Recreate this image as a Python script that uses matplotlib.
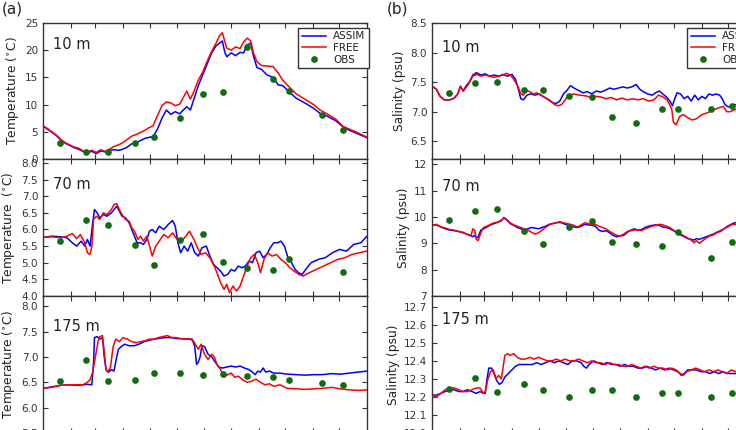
import matplotlib
matplotlib.use('agg')
import matplotlib.pyplot as plt
import numpy as np

plt.rcParams['font.family'] = ['DejaVu Sans']
plt.rcParams['xtick.direction'] = 'in'
plt.rcParams['ytick.direction'] = 'in'
plt.rcParams['xtick.top'] = True
plt.rcParams['ytick.right'] = True
plt.rcParams['xtick.major.size'] = 3.5
plt.rcParams['ytick.major.size'] = 3.5

# day of year for the observation profiles
obs_day = [19, 48, 73, 104, 125, 154, 180, 203, 230, 259, 277, 314, 338]
obs_day_70 = [19, 48, 73, 104, 125, 154, 180, 203, 230, 259, 277, 338]
month_start = [31, 59, 90, 120, 151, 181, 212, 243, 273, 304, 334]

# ---- (a) temperature, 10 m
t10_day = [0, 5, 10, 15, 20, 25, 30, 35, 40, 45, 50, 55, 60, 65, 70, 75, 80, 85, 90, 95,
           100, 105, 110, 115, 120, 124, 129, 134, 139, 144, 149, 154, 158, 162, 166, 170,
           175, 180, 185, 190, 195, 199, 202, 205, 207, 212, 217, 222, 226, 230, 234, 237,
           241, 246, 252, 259, 265, 270, 277, 285, 295, 305, 312, 320, 330, 338, 345, 355, 365]
t10_free = [6.1, 5.6, 5.0, 4.4, 3.6, 3.0, 2.6, 2.2, 2.0, 1.5, 1.3, 1.6, 1.2, 1.7, 1.4, 1.8,
            2.3, 2.6, 3.0, 3.6, 4.2, 4.5, 4.9, 5.3, 5.8, 6.1, 8.0, 9.8, 10.5, 10.3, 9.8, 10.1,
            11.3, 12.5, 11.0, 12.4, 14.5, 16.0, 18.0, 19.8, 21.3, 22.7, 23.2, 21.5, 20.4, 20.0,
            20.6, 20.3, 21.5, 22.2, 21.7, 19.5, 17.9, 17.2, 17.1, 17.0, 15.8, 14.5, 13.3, 12.0,
            11.0, 10.0, 9.0, 8.3, 7.3, 6.0, 5.5, 4.8, 4.0]
t10_assim = [6.0, 5.5, 4.9, 4.3, 3.5, 2.9, 2.5, 2.1, 1.8, 1.4, 1.2, 1.4, 1.0, 1.5, 1.3, 1.6,
             1.7, 1.6, 1.8, 2.2, 2.8, 3.0, 3.4, 3.8, 4.0, 4.1, 5.5, 7.5, 9.0, 8.2, 8.7, 8.3,
             9.0, 9.6, 9.0, 11.0, 13.5, 15.5, 17.5, 19.5, 20.8, 21.3, 21.7, 19.5, 18.8, 19.5,
             19.0, 19.6, 19.5, 21.0, 21.3, 19.0, 16.8, 16.5, 15.5, 15.0, 13.6, 13.5, 12.4, 11.2,
             10.3, 9.3, 8.4, 7.9, 7.0, 5.9, 5.3, 4.6, 3.9]
t10_obs = [3.0, 1.3, 1.3, 2.9, 4.0, 7.5, 12.0, 12.3, 20.6, 14.7, 12.5, 8.1, 5.4]

# ---- (a) temperature, 70 m
t70_free_day = [0, 10, 20, 27, 33, 38, 42, 47, 50, 53, 55, 57, 60, 64, 68, 72, 77, 80, 83, 86,
                89, 93, 97, 100, 103, 107, 110, 113, 117, 120, 123, 127, 131, 136, 141, 146,
                151, 156, 161, 165, 170, 174, 178, 183, 188, 192, 196, 200, 204, 207, 210, 214,
                218, 222, 226, 230, 234, 238, 242, 245, 249, 253, 258, 263, 268, 273, 278, 283,
                288, 293, 300, 308, 316, 324, 332, 340, 348, 356, 365]
t70_free = [5.76, 5.78, 5.75, 5.8, 5.88, 5.72, 5.85, 5.6, 5.3, 5.25, 5.5, 6.3, 6.4, 6.3, 6.5,
            6.45, 6.6, 6.75, 6.78, 6.6, 6.45, 6.3, 6.25, 6.05, 5.95, 5.7, 5.8, 5.65, 5.8, 5.5,
            5.2, 5.5, 5.65, 5.85, 5.75, 5.9, 5.7, 5.65, 5.8, 5.95, 5.7, 5.45, 5.25, 5.3, 5.15,
            4.95, 4.7, 4.4, 4.2, 4.35, 4.1, 4.3, 4.15, 4.3, 4.6, 4.9, 5.15, 5.25, 5.0, 4.7,
            5.1, 5.3, 5.2, 5.25, 5.1, 5.0, 4.85, 4.75, 4.65, 4.6, 4.7, 4.8, 4.9, 5.0, 5.1,
            5.15, 5.25, 5.3, 5.35]
t70_assim_day = [0, 10, 20, 27, 33, 38, 43, 47, 50, 53, 56, 58, 61, 64, 68, 72, 77, 80, 83, 86,
                 89, 93, 97, 100, 103, 106, 110, 113, 117, 120, 123, 127, 131, 136, 141, 146,
                 149, 152, 155, 159, 163, 167, 171, 175, 179, 184, 188, 192, 196, 200, 204, 208,
                 212, 216, 220, 224, 228, 232, 236, 240, 244, 248, 252, 256, 260, 264, 268, 272,
                 276, 280, 284, 288, 292, 296, 302, 310, 318, 326, 334, 342, 350, 358, 365]
t70_assim = [5.76, 5.8, 5.78, 5.75, 5.6, 5.5, 5.65, 5.5, 5.7, 5.5, 6.2, 6.6, 6.5, 6.35, 6.45,
             6.4, 6.5, 6.6, 6.7, 6.55, 6.4, 6.35, 6.2, 6.0, 5.8, 5.6, 5.6, 5.55, 5.7, 5.95,
             6.0, 5.9, 6.1, 6.0, 6.15, 6.27, 6.1, 5.6, 5.3, 5.5, 5.35, 5.6, 5.3, 5.2, 5.45,
             5.5, 5.2, 4.95, 4.85, 4.75, 4.6, 4.65, 4.8, 4.75, 4.9, 4.85, 4.9, 5.05, 5.0, 5.3,
             5.35, 5.15, 5.25, 5.45, 5.6, 5.6, 5.65, 5.5, 5.15, 5.0, 4.8, 4.7, 4.65, 4.8, 5.0,
             5.1, 5.15, 5.3, 5.4, 5.35, 5.55, 5.6, 5.8]
t70_obs = [5.65, 6.29, 6.14, 5.53, 4.92, 5.68, 5.86, 5.01, 4.85, 4.79, 5.10, 4.73]

# ---- (a) temperature, 175 m
t175_free_day = [0, 10, 20, 30, 40, 45, 50, 53, 56, 59, 62, 64, 67, 69, 71, 73, 76, 79, 82, 86,
                 90, 95, 100, 105, 110, 115, 120, 125, 130, 135, 140, 145, 150, 155, 160, 165,
                 170, 175, 178, 182, 186, 190, 193, 196, 200, 204, 208, 212, 216, 220, 225, 230,
                 235, 240, 245, 250, 255, 260, 267, 275, 285, 295, 305, 315, 325, 335, 345, 355, 365]
t175_free = [6.38, 6.4, 6.44, 6.45, 6.45, 6.45, 6.5, 6.55, 6.7, 7.0, 7.3, 7.4, 7.42, 7.1, 6.75,
             6.7, 6.8, 7.2, 7.35, 7.3, 7.38, 7.35, 7.3, 7.28, 7.3, 7.32, 7.35, 7.35, 7.38, 7.4,
             7.42, 7.38, 7.38, 7.36, 7.35, 7.36, 7.3, 7.15, 7.25, 7.05, 6.95, 7.05, 7.0, 6.85,
             6.75, 6.6, 6.65, 6.68, 6.6, 6.62, 6.55, 6.5, 6.52, 6.56, 6.5, 6.45, 6.47, 6.42,
             6.45, 6.38, 6.37, 6.36, 6.37, 6.38, 6.4, 6.37, 6.35, 6.34, 6.35]
t175_assim_day = [0, 10, 20, 30, 40, 45, 50, 55, 57, 58, 61, 64, 67, 69, 71, 74, 77, 80, 83, 85,
                  88, 92, 97, 103, 108, 114, 120, 126, 132, 138, 144, 150, 156, 162, 168, 171,
                  173, 175, 177, 179, 182, 186, 190, 194, 198, 202, 207, 212, 217, 222, 227, 232,
                  236, 239, 242, 245, 248, 251, 255, 260, 267, 275, 285, 295, 305, 315, 325, 335,
                  345, 355, 365]
t175_assim = [6.38, 6.41, 6.44, 6.45, 6.44, 6.45, 6.46, 6.45, 6.9, 7.38, 7.4, 7.35, 7.38, 7.0,
              6.75, 6.7, 6.75, 6.72, 7.0, 7.15, 7.2, 7.25, 7.22, 7.22, 7.25, 7.3, 7.33, 7.35,
              7.37, 7.38, 7.38, 7.36, 7.36, 7.35, 7.35, 7.2, 6.85, 6.9, 7.0, 7.22, 7.2, 7.05,
              7.0, 6.9, 6.8, 6.78, 6.8, 6.82, 6.8, 6.82, 6.78, 6.75, 6.7, 6.65, 6.72, 6.7, 6.78,
              6.7, 6.72, 6.68, 6.68, 6.66, 6.65, 6.64, 6.65, 6.65, 6.67, 6.66, 6.68, 6.7, 6.72]
t175_obs = [6.52, 6.94, 6.53, 6.55, 6.68, 6.68, 6.65, 6.66, 6.63, 6.61, 6.55, 6.48, 6.45]

# ---- (b) salinity, 10 m
s10_free_day = [0, 5, 9, 14, 20, 25, 29, 32, 35, 38, 42, 46, 50, 55, 60, 65, 70, 75, 80, 84,
                88, 91, 94, 97, 100, 103, 106, 110, 114, 118, 122, 126, 130, 134, 138, 142, 146,
                150, 154, 160, 166, 172, 178, 184, 190, 196, 202, 208, 214, 220, 226, 232, 238,
                244, 250, 255, 260, 265, 270, 272, 275, 279, 283, 288, 293, 298, 304, 310, 316,
                322, 328, 332, 336, 340, 345, 350, 355, 365]
s10_free = [7.43, 7.38, 7.26, 7.2, 7.2, 7.23, 7.3, 7.43, 7.35, 7.4, 7.49, 7.6, 7.63, 7.6, 7.62,
            7.6, 7.58, 7.6, 7.62, 7.65, 7.62, 7.57, 7.5, 7.42, 7.3, 7.28, 7.36, 7.34, 7.3, 7.32,
            7.28, 7.25, 7.22, 7.18, 7.12, 7.1, 7.12, 7.2, 7.28, 7.3, 7.28, 7.27, 7.25, 7.26,
            7.25, 7.22, 7.24, 7.2, 7.23, 7.2, 7.22, 7.2, 7.22, 7.18, 7.2, 7.28, 7.25, 7.2, 7.05,
            6.82, 6.78, 6.92, 6.95, 6.9, 6.86, 6.88, 6.95, 6.98, 7.02, 7.06, 7.09, 7.0, 7.0,
            7.03, 7.05, 7.06, 7.08, 7.1]
s10_assim_day = [0, 5, 9, 14, 20, 25, 29, 32, 35, 39, 42, 46, 50, 55, 60, 65, 70, 75, 80, 85,
                 90, 94, 97, 100, 103, 107, 111, 116, 121, 126, 131, 136, 140, 144, 148, 152,
                 156, 160, 165, 170, 175, 180, 185, 190, 195, 200, 205, 210, 215, 220, 225, 230,
                 234, 238, 243, 248, 252, 256, 260, 264, 268, 271, 273, 276, 280, 284, 288, 292,
                 296, 300, 304, 308, 312, 316, 320, 324, 327, 330, 334, 338, 342, 350, 358, 365]
s10_assim = [7.43, 7.38, 7.26, 7.2, 7.2, 7.23, 7.3, 7.43, 7.35, 7.45, 7.5, 7.62, 7.66, 7.62,
             7.64, 7.6, 7.62, 7.6, 7.63, 7.6, 7.63, 7.55, 7.4, 7.22, 7.2, 7.28, 7.3, 7.28, 7.3,
             7.25, 7.2, 7.15, 7.14, 7.18, 7.3, 7.36, 7.44, 7.4, 7.36, 7.32, 7.34, 7.3, 7.35,
             7.33, 7.36, 7.4, 7.38, 7.4, 7.42, 7.4, 7.42, 7.46, 7.38, 7.34, 7.3, 7.28, 7.32,
             7.35, 7.3, 7.25, 7.18, 7.1, 7.2, 7.32, 7.3, 7.22, 7.26, 7.18, 7.28, 7.2, 7.26,
             7.22, 7.3, 7.28, 7.3, 7.28, 7.22, 7.12, 7.08, 7.1, 7.12, 7.12, 7.1, 7.12]
s10_obs = [7.32, 7.49, 7.51, 7.37, 7.36, 7.26, 7.25, 6.91, 6.81, 7.05, 7.05, 7.05, 7.1]

# ---- (b) salinity, 70 m
s70_day = [0, 5, 10, 15, 20, 25, 30, 35, 39, 44, 46, 48, 50, 52, 55, 58, 62, 66, 70, 74, 78,
           81, 84, 88, 92, 96, 100, 104, 108, 112, 116, 120, 124, 128, 132, 136, 140, 144, 148,
           152, 156, 160, 164, 168, 172, 176, 180, 184, 188, 192, 196, 200, 204, 208, 212, 216,
           220, 224, 228, 232, 236, 240, 244, 248, 252, 256, 260, 264, 268, 272, 276, 280, 284,
           288, 292, 295, 298, 301, 305, 309, 313, 317, 321, 325, 329, 333, 337, 341, 348, 356, 365]
s70_free = [9.68, 9.72, 9.62, 9.58, 9.52, 9.5, 9.45, 9.42, 9.35, 9.3, 9.55, 9.5, 9.15, 9.1, 9.4,
            9.6, 9.65, 9.72, 9.78, 9.8, 9.88, 9.95, 9.9, 9.78, 9.7, 9.65, 9.6, 9.55, 9.5, 9.42,
            9.35, 9.4, 9.5, 9.6, 9.7, 9.75, 9.78, 9.82, 9.78, 9.75, 9.72, 9.68, 9.62, 9.7, 9.78,
            9.75, 9.7, 9.72, 9.65, 9.6, 9.55, 9.45, 9.38, 9.3, 9.28, 9.35, 9.45, 9.48, 9.5, 9.52,
            9.48, 9.55, 9.6, 9.65, 9.68, 9.72, 9.7, 9.65, 9.6, 9.5, 9.42, 9.35, 9.28, 9.2, 9.12,
            9.02, 9.1, 9.0, 9.1, 9.2, 9.28, 9.32, 9.4, 9.45, 9.55, 9.62, 9.7, 9.72, 9.75, 9.78, 9.8]
s70_assim = [9.68, 9.7, 9.62, 9.55, 9.5, 9.48, 9.45, 9.4, 9.35, 9.28, 9.25, 9.3, 9.2, 9.25, 9.5,
             9.55, 9.62, 9.7, 9.75, 9.8, 9.85, 9.98, 9.9, 9.75, 9.68, 9.6, 9.55, 9.5, 9.55, 9.6,
             9.58, 9.55, 9.6, 9.65, 9.72, 9.75, 9.78, 9.8, 9.75, 9.7, 9.65, 9.62, 9.6, 9.65, 9.72,
             9.7, 9.68, 9.65, 9.5, 9.45, 9.48, 9.4, 9.3, 9.25, 9.28, 9.3, 9.42, 9.5, 9.55, 9.5,
             9.52, 9.6, 9.65, 9.68, 9.7, 9.68, 9.62, 9.6, 9.55, 9.48, 9.4, 9.32, 9.25, 9.18, 9.15,
             9.12, 9.18, 9.15, 9.2, 9.25, 9.3, 9.35, 9.42, 9.48, 9.55, 9.65, 9.72, 9.78, 9.8,
             9.82, 9.85]
s70_obs = [9.88, 10.23, 10.3, 9.47, 8.97, 9.61, 9.84, 9.06, 8.97, 8.89, 9.44, 8.45, 9.06]

# ---- (b) salinity, 175 m
s175_free_day = [0, 5, 10, 15, 20, 25, 30, 35, 40, 45, 50, 54, 58, 60, 63, 66, 69, 72, 75, 78,
                 80, 82, 85, 88, 92, 96, 100, 105, 110, 115, 120, 125, 130, 135, 140, 145, 150,
                 155, 160, 165, 170, 175, 180, 185, 190, 195, 200, 205, 210, 215, 220, 225, 230,
                 235, 240, 245, 250, 255, 260, 265, 270, 275, 280, 283, 287, 292, 297, 302, 307,
                 312, 317, 322, 327, 332, 337, 342, 350, 358, 365]
s175_free = [12.21, 12.2, 12.22, 12.24, 12.25, 12.25, 12.24, 12.23, 12.23, 12.24, 12.25, 12.25,
             12.22, 12.23, 12.3, 12.34, 12.35, 12.3, 12.32, 12.3, 12.36, 12.43, 12.44, 12.43,
             12.44, 12.42, 12.41, 12.41, 12.42, 12.41, 12.42, 12.41, 12.4, 12.4, 12.41, 12.4,
             12.41, 12.4, 12.4, 12.41, 12.4, 12.39, 12.4, 12.39, 12.39, 12.38, 12.39, 12.38,
             12.38, 12.37, 12.37, 12.38, 12.37, 12.36, 12.37, 12.36, 12.37, 12.36, 12.36, 12.35,
             12.36, 12.35, 12.33, 12.32, 12.34, 12.35, 12.36, 12.35, 12.34, 12.35, 12.34, 12.35,
             12.34, 12.33, 12.35, 12.34, 12.34, 12.33, 12.34]
s175_assim_day = [0, 5, 10, 15, 20, 25, 30, 35, 40, 45, 50, 54, 58, 60, 62, 64, 67, 70, 73, 76,
                  79, 82, 86, 90, 94, 98, 103, 108, 113, 118, 123, 128, 133, 138, 143, 148, 153,
                  158, 163, 168, 171, 174, 177, 182, 187, 192, 197, 202, 207, 212, 217, 222, 227,
                  232, 237, 242, 247, 252, 257, 262, 267, 272, 277, 281, 284, 288, 293, 298, 303,
                  308, 313, 318, 323, 328, 333, 338, 342, 350, 358, 365]
s175_assim = [12.21, 12.21, 12.22, 12.23, 12.24, 12.24, 12.23, 12.23, 12.24, 12.23, 12.22, 12.23,
              12.22, 12.22, 12.3, 12.36, 12.36, 12.33, 12.29, 12.27, 12.28, 12.31, 12.33, 12.35,
              12.37, 12.38, 12.38, 12.38, 12.38, 12.39, 12.38, 12.39, 12.4, 12.39, 12.4, 12.39,
              12.38, 12.4, 12.4, 12.39, 12.37, 12.36, 12.38, 12.4, 12.39, 12.38, 12.39, 12.38,
              12.38, 12.37, 12.38, 12.37, 12.37, 12.36, 12.36, 12.37, 12.36, 12.35, 12.36, 12.35,
              12.36, 12.35, 12.34, 12.32, 12.33, 12.35, 12.35, 12.35, 12.34, 12.34, 12.33, 12.34,
              12.33, 12.34, 12.33, 12.33, 12.33, 12.33, 12.32, 12.33]
s175_obs = [12.246, 12.305, 12.23, 12.27, 12.24, 12.20, 12.24, 12.24, 12.20, 12.22, 12.22,
            12.20, 12.22]

W, H = 736.0, 430.0
col_left = [43, 432]
col_width = 324
row_top = [23, 159, 296]
row_bot = [159, 296, 433]
dark = '#333333'


def make_axes(col, row):
    ax = fig.add_axes([col_left[col] / W, 1 - row_bot[row] / H,
                       col_width / W, (row_bot[row] - row_top[row]) / H])
    for s in ax.spines.values():
        s.set_color(dark)
        s.set_linewidth(1.0)
    ax.tick_params(colors=dark, labelsize=7.5, width=0.8)
    ax.set_xlim(0, 365)
    ax.set_xticks(month_start)
    ax.set_xticklabels([])
    return ax


def panel(ax, da, va, df, vf, od, ov, ylim, yticks, fmt, ylabel, depth, depth_y):
    la, = ax.plot(da, va, color='#0000ff', lw=1.1, label='ASSIM')
    lf, = ax.plot(df, vf, color='#ff0000', lw=1.1, label='FREE')
    lo, = ax.plot(od, ov, 'o', color='#126b12', mec='#126b12', ms=3.8, label='OBS')
    ax.set_ylim(*ylim)
    ax.set_yticks(yticks)
    ax.set_yticklabels([fmt.format(v) for v in yticks])
    ax.set_ylabel(ylabel, fontsize=8.8, color='#222222', labelpad=3)
    ax.text(0.031, depth_y, depth, transform=ax.transAxes, fontsize=10.5,
            color='#222222', va='center', ha='left')
    return ax


fig = plt.figure(figsize=(W / 100, H / 100), dpi=100)

tlab = 'Temperature ($^{\\circ}$C)'
slab = 'Salinity (psu)'

a1 = panel(make_axes(0, 0), t10_day, t10_assim, t10_day, t10_free, obs_day, t10_obs,
           (0, 25), [0, 5, 10, 15, 20, 25], '{:g}', tlab, '10 m', 0.84)
a2 = panel(make_axes(0, 1), t70_assim_day, t70_assim, t70_free_day, t70_free, obs_day_70,
           t70_obs, (4.0, 8.12), np.arange(4.0, 8.01, 0.5), '{:.1f}',
           'Temperature  ($^{\\circ}$C)', '70 m', 0.815)
a3 = panel(make_axes(0, 2), t175_assim_day, t175_assim, t175_free_day, t175_free, obs_day,
           t175_obs, (5.5, 8.2), np.arange(5.5, 8.01, 0.5), '{:.1f}', tlab, '175 m', 0.775)
b1 = panel(make_axes(1, 0), s10_assim_day, s10_assim, s10_free_day, s10_free, obs_day,
           s10_obs, (6.2, 8.5), [6.5, 7.0, 7.5, 8.0, 8.5], '{:.1f}', slab, '10 m', 0.82)
b2 = panel(make_axes(1, 1), s70_day, s70_assim, s70_day, s70_free, obs_day, s70_obs,
           (7, 12.2), [7, 8, 9, 10, 11, 12], '{:g}', slab, '70 m', 0.80)
b3 = panel(make_axes(1, 2), s175_assim_day, s175_assim, s175_free_day, s175_free, obs_day,
           s175_obs, (12.0, 12.76), np.arange(12.0, 12.71, 0.1), '{:.1f}', slab, '175 m', 0.83)

for ax in (a1, b1):
    leg = ax.legend(loc='upper right', bbox_to_anchor=(1.006, 0.965), borderaxespad=0,
                    fontsize=7.5, numpoints=1, handlelength=2.3, labelspacing=0.15,
                    handletextpad=0.7, borderpad=0.35, fancybox=False, framealpha=1)
    leg.get_frame().set_edgecolor(dark)
    leg.get_frame().set_linewidth(1.0)
    for t in leg.get_texts():
        t.set_color('#222222')

fig.text(2 / W, 1 - 2 / H, '(a)', fontsize=11, va='top', ha='left', color='#222222')
fig.text(387 / W, 1 - 2 / H, '(b)', fontsize=11, va='top', ha='left', color='#222222')

fig.savefig('out.png', dpi=100)
